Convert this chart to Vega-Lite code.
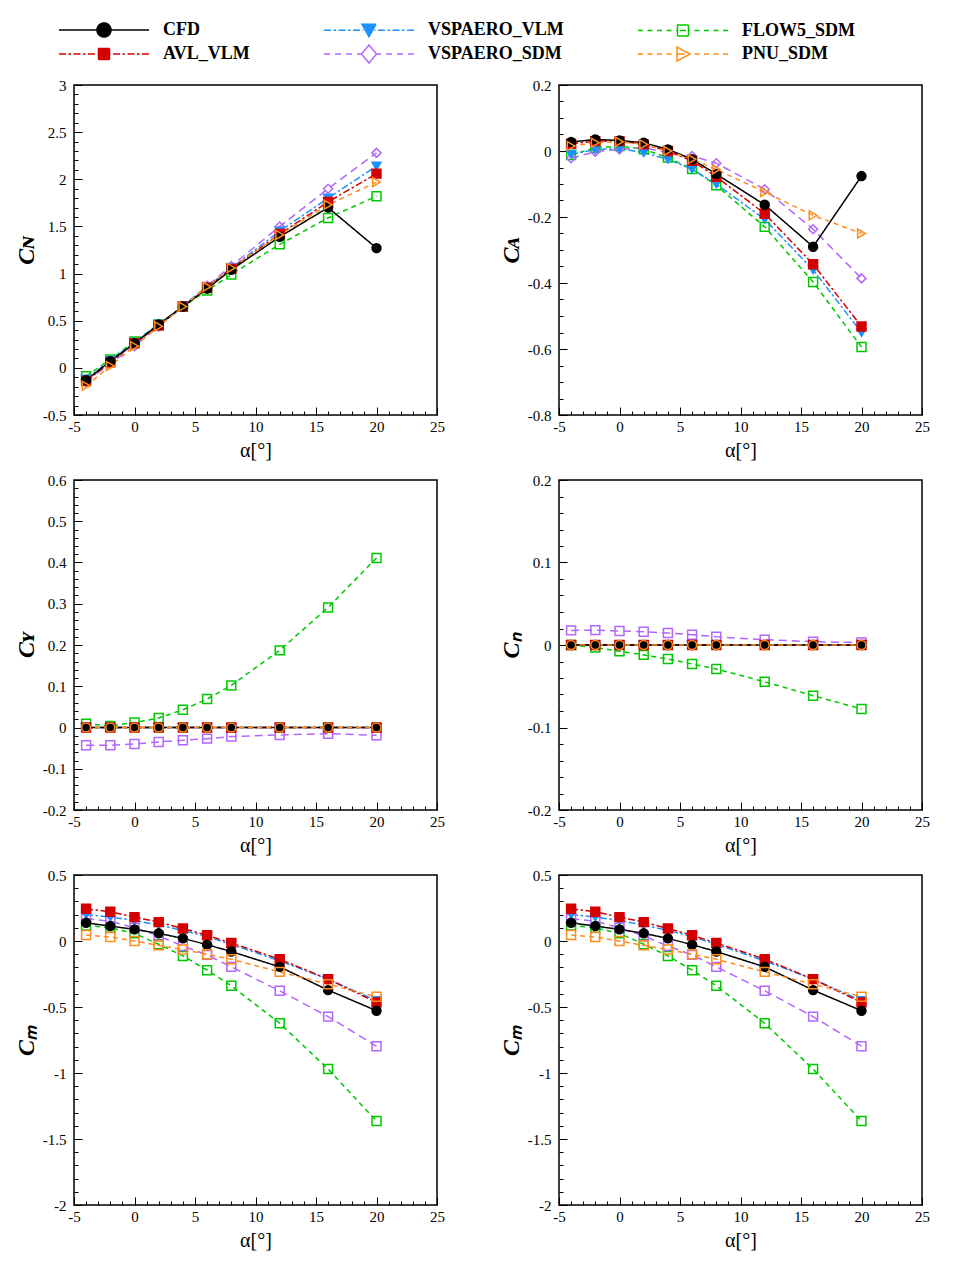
{
  "$schema": "https://vega.github.io/schema/vega-lite/v6.json",
  "padding": {"left": 13, "top": 21, "right": 5, "bottom": 5},
  "background": "white",
  "data": {"values": [
    {"s": "FLOW5_SDM", "a": -4, "CN": -0.09, "CA": -0.012, "CY": 0.009, "Cn": 0.0, "Cm": 0.118},
    {"s": "FLOW5_SDM", "a": -2, "CN": 0.09, "CA": 0.01, "CY": 0.004, "Cn": -0.003, "Cm": 0.10},
    {"s": "FLOW5_SDM", "a": 0, "CN": 0.28, "CA": 0.015, "CY": 0.012, "Cn": -0.0076, "Cm": 0.058},
    {"s": "FLOW5_SDM", "a": 2, "CN": 0.46, "CA": 0.005, "CY": 0.023, "Cn": -0.012, "Cm": -0.025},
    {"s": "FLOW5_SDM", "a": 4, "CN": 0.65, "CA": -0.02, "CY": 0.043, "Cn": -0.017, "Cm": -0.113},
    {"s": "FLOW5_SDM", "a": 6, "CN": 0.82, "CA": -0.055, "CY": 0.069, "Cn": -0.023, "Cm": -0.221},
    {"s": "FLOW5_SDM", "a": 8, "CN": 0.99, "CA": -0.104, "CY": 0.102, "Cn": -0.029, "Cm": -0.339},
    {"s": "FLOW5_SDM", "a": 12, "CN": 1.31, "CA": -0.23, "CY": 0.187, "Cn": -0.0446, "Cm": -0.623},
    {"s": "FLOW5_SDM", "a": 16, "CN": 1.59, "CA": -0.397, "CY": 0.291, "Cn": -0.0614, "Cm": -0.97},
    {"s": "FLOW5_SDM", "a": 20, "CN": 1.82, "CA": -0.594, "CY": 0.411, "Cn": -0.0775, "Cm": -1.364},
    {"s": "VSPAERO_SDM", "a": -4, "CN": -0.15, "CA": -0.022, "CY": -0.043, "Cn": 0.0177, "Cm": 0.168},
    {"s": "VSPAERO_SDM", "a": -2, "CN": 0.05, "CA": -0.002, "CY": -0.043, "Cn": 0.018, "Cm": 0.15},
    {"s": "VSPAERO_SDM", "a": 0, "CN": 0.23, "CA": 0.005, "CY": -0.04, "Cn": 0.017, "Cm": 0.10},
    {"s": "VSPAERO_SDM", "a": 2, "CN": 0.44, "CA": 0.01, "CY": -0.035, "Cn": 0.016, "Cm": 0.038},
    {"s": "VSPAERO_SDM", "a": 4, "CN": 0.65, "CA": -0.005, "CY": -0.031, "Cn": 0.0145, "Cm": -0.038},
    {"s": "VSPAERO_SDM", "a": 6, "CN": 0.87, "CA": -0.015, "CY": -0.027, "Cn": 0.0125, "Cm": -0.105},
    {"s": "VSPAERO_SDM", "a": 8, "CN": 1.08, "CA": -0.037, "CY": -0.022, "Cn": 0.010, "Cm": -0.196},
    {"s": "VSPAERO_SDM", "a": 12, "CN": 1.50, "CA": -0.116, "CY": -0.018, "Cn": 0.0064, "Cm": -0.377},
    {"s": "VSPAERO_SDM", "a": 16, "CN": 1.90, "CA": -0.237, "CY": -0.015, "Cn": 0.004, "Cm": -0.573},
    {"s": "VSPAERO_SDM", "a": 20, "CN": 2.28, "CA": -0.386, "CY": -0.019, "Cn": 0.003, "Cm": -0.797},
    {"s": "VSPAERO_VLM", "a": -4, "CN": -0.12, "CA": -0.01, "CY": 0, "Cn": 0, "Cm": 0.20},
    {"s": "VSPAERO_VLM", "a": -2, "CN": 0.08, "CA": 0.004, "CY": 0, "Cn": 0, "Cm": 0.181},
    {"s": "VSPAERO_VLM", "a": 0, "CN": 0.27, "CA": 0.008, "CY": 0, "Cn": 0, "Cm": 0.156},
    {"s": "VSPAERO_VLM", "a": 2, "CN": 0.46, "CA": -0.005, "CY": 0, "Cn": 0, "Cm": 0.12},
    {"s": "VSPAERO_VLM", "a": 4, "CN": 0.66, "CA": -0.025, "CY": 0, "Cn": 0, "Cm": 0.08},
    {"s": "VSPAERO_VLM", "a": 6, "CN": 0.86, "CA": -0.055, "CY": 0, "Cn": 0, "Cm": 0.033},
    {"s": "VSPAERO_VLM", "a": 8, "CN": 1.06, "CA": -0.10, "CY": 0, "Cn": 0, "Cm": -0.025},
    {"s": "VSPAERO_VLM", "a": 12, "CN": 1.45, "CA": -0.207, "CY": 0, "Cn": 0, "Cm": -0.15},
    {"s": "VSPAERO_VLM", "a": 16, "CN": 1.80, "CA": -0.36, "CY": 0, "Cn": 0, "Cm": -0.289},
    {"s": "VSPAERO_VLM", "a": 20, "CN": 2.14, "CA": -0.55, "CY": 0, "Cn": 0, "Cm": -0.452},
    {"s": "AVL_VLM", "a": -4, "CN": -0.14, "CA": 0.022, "CY": 0, "Cn": 0, "Cm": 0.244},
    {"s": "AVL_VLM", "a": -2, "CN": 0.06, "CA": 0.03, "CY": 0, "Cn": 0, "Cm": 0.221},
    {"s": "AVL_VLM", "a": 0, "CN": 0.26, "CA": 0.03, "CY": 0, "Cn": 0, "Cm": 0.181},
    {"s": "AVL_VLM", "a": 2, "CN": 0.45, "CA": 0.02, "CY": 0, "Cn": 0, "Cm": 0.143},
    {"s": "AVL_VLM", "a": 4, "CN": 0.65, "CA": 0.0, "CY": 0, "Cn": 0, "Cm": 0.095},
    {"s": "AVL_VLM", "a": 6, "CN": 0.85, "CA": -0.03, "CY": 0, "Cn": 0, "Cm": 0.043},
    {"s": "AVL_VLM", "a": 8, "CN": 1.05, "CA": -0.078, "CY": 0, "Cn": 0, "Cm": -0.015},
    {"s": "AVL_VLM", "a": 12, "CN": 1.42, "CA": -0.19, "CY": 0, "Cn": 0, "Cm": -0.138},
    {"s": "AVL_VLM", "a": 16, "CN": 1.76, "CA": -0.343, "CY": 0, "Cn": 0, "Cm": -0.289},
    {"s": "AVL_VLM", "a": 20, "CN": 2.06, "CA": -0.532, "CY": 0, "Cn": 0, "Cm": -0.465},
    {"s": "CFD", "a": -4, "CN": -0.13, "CA": 0.027, "CY": 0, "Cn": 0, "Cm": 0.138},
    {"s": "CFD", "a": -2, "CN": 0.07, "CA": 0.035, "CY": 0, "Cn": 0, "Cm": 0.113},
    {"s": "CFD", "a": 0, "CN": 0.26, "CA": 0.032, "CY": 0, "Cn": 0, "Cm": 0.088},
    {"s": "CFD", "a": 2, "CN": 0.46, "CA": 0.025, "CY": 0, "Cn": 0, "Cm": 0.058},
    {"s": "CFD", "a": 4, "CN": 0.65, "CA": 0.005, "CY": 0, "Cn": 0, "Cm": 0.02},
    {"s": "CFD", "a": 6, "CN": 0.84, "CA": -0.025, "CY": 0, "Cn": 0, "Cm": -0.028},
    {"s": "CFD", "a": 8, "CN": 1.04, "CA": -0.07, "CY": 0, "Cn": 0, "Cm": -0.08},
    {"s": "CFD", "a": 12, "CN": 1.39, "CA": -0.163, "CY": 0, "Cn": 0, "Cm": -0.196},
    {"s": "CFD", "a": 16, "CN": 1.70, "CA": -0.29, "CY": 0, "Cn": 0, "Cm": -0.372},
    {"s": "CFD", "a": 20, "CN": 1.27, "CA": -0.076, "CY": 0, "Cn": 0, "Cm": -0.528},
    {"s": "PNU_SDM", "a": -4, "CN": -0.19, "CA": 0.015, "CY": 0, "Cn": 0, "Cm": 0.045},
    {"s": "PNU_SDM", "a": -2, "CN": 0.02, "CA": 0.025, "CY": 0, "Cn": 0, "Cm": 0.03},
    {"s": "PNU_SDM", "a": 0, "CN": 0.23, "CA": 0.028, "CY": 0, "Cn": 0, "Cm": 0.0},
    {"s": "PNU_SDM", "a": 2, "CN": 0.44, "CA": 0.02, "CY": 0, "Cn": 0, "Cm": -0.033},
    {"s": "PNU_SDM", "a": 4, "CN": 0.65, "CA": 0.0, "CY": 0, "Cn": 0, "Cm": -0.065},
    {"s": "PNU_SDM", "a": 6, "CN": 0.86, "CA": -0.025, "CY": 0, "Cn": 0, "Cm": -0.1},
    {"s": "PNU_SDM", "a": 8, "CN": 1.06, "CA": -0.056, "CY": 0, "Cn": 0, "Cm": -0.138},
    {"s": "PNU_SDM", "a": 12, "CN": 1.41, "CA": -0.124, "CY": 0, "Cn": 0, "Cm": -0.234},
    {"s": "PNU_SDM", "a": 16, "CN": 1.73, "CA": -0.195, "CY": 0, "Cn": 0, "Cm": -0.327},
    {"s": "PNU_SDM", "a": 20, "CN": 1.97, "CA": -0.25, "CY": 0, "Cn": 0, "Cm": -0.422}
  ]},
  "columns": 2,
  "spacing": {"row": 11, "column": 52},
  "resolve": {"scale": {"shape": "independent"}},
  "concat": [
    {
      "width": 363, "height": 330,
      "encoding": {
        "x": {"field": "a", "type": "quantitative", "scale": {"domain": [-5, 25], "nice": false, "zero": false},
          "axis": {"values": [-5,-4,-3,-2,-1,0,1,2,3,4,5,6,7,8,9,10,11,12,13,14,15,16,17,18,19,20,21,22,23,24,25], "labelExpr": "datum.value % 5 === 0 ? '' + datum.value : ''", "tickSize": {"condition": {"test": "datum.value % 5 === 0", "value": -8}, "value": -4}, "title": "α[°]"}},
        "y": {"field": "CN", "type": "quantitative", "scale": {"domain": [-0.5, 3], "nice": false, "zero": false},
          "axis": {"values": [-0.5,-0.4,-0.3,-0.2,-0.1,0,0.1,0.2,0.3,0.4,0.5,0.6,0.7,0.8,0.9,1,1.1,1.2,1.3,1.4,1.5,1.6,1.7,1.8,1.9,2,2.1,2.2,2.3,2.4,2.5,2.6,2.7,2.8,2.9,3], "labelExpr": "abs(datum.value*2-round(datum.value*2))<1e-6 ? '' + datum.value : ''", "tickSize": {"condition": {"test": "abs(datum.value*2-round(datum.value*2))<1e-6", "value": -8}, "value": -4}, "title": "Cɴ"}}
      },
      "layer": [
        {"mark": {"type": "line", "strokeWidth": 1.5},
          "encoding": {
            "color": {"field": "s", "type": "nominal", "scale": {"domain": ["CFD", "AVL_VLM", "VSPAERO_VLM", "VSPAERO_SDM", "FLOW5_SDM", "PNU_SDM"], "range": ["black", "#d40000", "#1e90ff", "#b266ff", "#00c800", "#ff8c1a"]}},
            "strokeDash": {"field": "s", "type": "nominal", "scale": {"domain": ["CFD", "VSPAERO_VLM", "FLOW5_SDM", "AVL_VLM", "VSPAERO_SDM", "PNU_SDM"], "range": [[1, 0], [7, 2.5, 2.5, 2.5], [5, 4], [7, 2.5, 2.5, 2.5], [8, 5], [5, 4]]}, "legend": null}
          }},
        {"mark": {"type": "point", "filled": false, "size": 80, "strokeWidth": 1.5, "opacity": 1},
          "encoding": {
            "color": {"field": "s", "type": "nominal", "legend": {
              "orient": "none", "legendX": -15, "legendY": -64, "columns": 3, "title": null, "padding": 0,
              "columnPadding": 71, "rowPadding": 2,
              "labelFont": "Liberation Serif", "labelFontSize": 18, "labelFontWeight": "bold", "labelColor": "black", "labelLimit": 300,
              "symbolSize": 100, "symbolOffset": 36, "labelOffset": 50,
              "encoding": {"symbols": {
                "shape": {"value": {"expr": "datum.value === 'CFD' ? 'M-9,0L9,0M-1.4,0A1.4,1.4,0,1,1,1.4,0A1.4,1.4,0,1,1,-1.4,0Z' : datum.value === 'AVL_VLM' ? 'M-9,0L-7.6,0M-7.1,0L-6.6,0M-6.1,0L-4.7,0M-4.2,0L-3.7,0M-3.2,0L-1.8,0M-1.3,0L-1.1,0M1.1,0L1.3,0M1.8,0L3.2,0M3.7,0L4.2,0M4.7,0L6.1,0M6.6,0L7.1,0M7.6,0L9,0M-1.1,-1.1L1.1,-1.1L1.1,1.1L-1.1,1.1Z' : datum.value === 'VSPAERO_VLM' ? 'M-9,0L-7.6,0M-7.1,0L-6.6,0M-6.1,0L-4.7,0M-4.2,0L-3.7,0M-3.2,0L-1.8,0M-1.3,0L-1.1,0M1.1,0L1.3,0M1.8,0L3.2,0M3.7,0L4.2,0M4.7,0L6.1,0M6.6,0L7.1,0M7.6,0L9,0M-1.4,-1.2L1.4,-1.2L0,1.3Z' : datum.value === 'VSPAERO_SDM' ? 'M-9,0L-7.8,0M-6.8,0L-5.6,0M-4.6,0L-3.4,0M-2.4,0L-1.5,0M1.5,0L2.4,0M3.4,0L4.6,0M5.6,0L6.8,0M7.8,0L9,0M0,-1.8L1.5,0L0,1.8L-1.5,0Z' : datum.value === 'FLOW5_SDM' ? 'M-9,0L-8,0M-7.1,0L-6.1,0M-5.2,0L-4.2,0M-3.3,0L-2.3,0M-1.4,0L-1.1,0M1.1,0L1.4,0M2.3,0L3.3,0M4.2,0L5.2,0M6.1,0L7.1,0M8,0L9,0M-0.6,0L0.6,0M-1.1,-1.1L1.1,-1.1L1.1,1.1L-1.1,1.1Z' : 'M-9,0L-8,0M-7.1,0L-6.1,0M-5.2,0L-4.2,0M-3.3,0L-2.3,0M-1.4,0L-1.2,0M2.3,0L3.3,0M4.2,0L5.2,0M6.1,0L7.1,0M8,0L9,0M1.4,0L1.6,0M-1.2,0L0.4,0M-1.2,-1.4L1.4,0L-1.2,1.4Z'"}},
                "fill": {"value": {"expr": "datum.value === 'CFD' ? 'black' : datum.value === 'AVL_VLM' ? '#d40000' : datum.value === 'VSPAERO_VLM' ? '#1e90ff' : 'transparent'"}},
                "stroke": {"value": {"expr": "datum.value === 'CFD' ? 'black' : datum.value === 'AVL_VLM' ? '#d40000' : datum.value === 'VSPAERO_VLM' ? '#1e90ff' : datum.value === 'VSPAERO_SDM' ? '#b266ff' : datum.value === 'FLOW5_SDM' ? '#00c800' : '#ff8c1a'"}},
                "strokeWidth": {"value": 1.5},
                "strokeDash": {"value": [1, 0]},
                "opacity": {"value": 1}
              }}
            }},
            "shape": {"field": "s", "type": "nominal", "scale": {"domain": ["CFD", "VSPAERO_VLM", "FLOW5_SDM", "AVL_VLM", "VSPAERO_SDM", "PNU_SDM"], "range": ["circle", "triangle-down", "square", "square", "diamond", "triangle-right"]}, "legend": null},
            "fill": {"field": "s", "type": "nominal", "scale": {"domain": ["CFD", "VSPAERO_VLM", "FLOW5_SDM", "AVL_VLM", "VSPAERO_SDM", "PNU_SDM"], "range": ["black", "#1e90ff", "transparent", "#d40000", "transparent", "transparent"]}, "legend": null}
          }}
      ]
    },
    {
      "width": 363, "height": 330,
      "encoding": {
        "x": {"field": "a", "type": "quantitative", "scale": {"domain": [-5, 25], "nice": false, "zero": false},
          "axis": {"values": [-5,-4,-3,-2,-1,0,1,2,3,4,5,6,7,8,9,10,11,12,13,14,15,16,17,18,19,20,21,22,23,24,25], "labelExpr": "datum.value % 5 === 0 ? '' + datum.value : ''", "tickSize": {"condition": {"test": "datum.value % 5 === 0", "value": -8}, "value": -4}, "title": "α[°]"}},
        "y": {"field": "CA", "type": "quantitative", "scale": {"domain": [-0.8, 0.2], "nice": false, "zero": false},
          "axis": {"values": [-0.8,-0.75,-0.7,-0.65,-0.6,-0.55,-0.5,-0.45,-0.4,-0.35,-0.3,-0.25,-0.2,-0.15,-0.1,-0.05,0,0.05,0.1,0.15,0.2], "labelExpr": "abs(datum.value*5-round(datum.value*5))<1e-6 ? '' + datum.value : ''", "tickSize": {"condition": {"test": "abs(datum.value*5-round(datum.value*5))<1e-6", "value": -8}, "value": -4}, "title": "Cᴀ"}}
      },
      "layer": [
        {"mark": {"type": "line", "strokeWidth": 1.5},
          "encoding": {
            "color": {"field": "s", "type": "nominal"},
            "strokeDash": {"field": "s", "type": "nominal", "legend": null}
          }},
        {"mark": {"type": "point", "filled": false, "size": 80, "strokeWidth": 1.5, "opacity": 1},
          "encoding": {
            "color": {"field": "s", "type": "nominal"},
            "shape": {"field": "s", "type": "nominal", "scale": {"domain": ["CFD", "VSPAERO_VLM", "FLOW5_SDM", "AVL_VLM", "VSPAERO_SDM", "PNU_SDM"], "range": ["circle", "triangle-down", "square", "square", "diamond", "triangle-right"]}, "legend": null},
            "fill": {"field": "s", "type": "nominal", "legend": null}
          }}
      ]
    },
    {
      "width": 363, "height": 330,
      "encoding": {
        "x": {"field": "a", "type": "quantitative", "scale": {"domain": [-5, 25], "nice": false, "zero": false},
          "axis": {"values": [-5,-4,-3,-2,-1,0,1,2,3,4,5,6,7,8,9,10,11,12,13,14,15,16,17,18,19,20,21,22,23,24,25], "labelExpr": "datum.value % 5 === 0 ? '' + datum.value : ''", "tickSize": {"condition": {"test": "datum.value % 5 === 0", "value": -8}, "value": -4}, "title": "α[°]"}},
        "y": {"field": "CY", "type": "quantitative", "scale": {"domain": [-0.2, 0.6], "nice": false, "zero": false},
          "axis": {"values": [-0.2,-0.18,-0.16,-0.14,-0.12,-0.1,-0.08,-0.06,-0.04,-0.02,0,0.02,0.04,0.06,0.08,0.1,0.12,0.14,0.16,0.18,0.2,0.22,0.24,0.26,0.28,0.3,0.32,0.34,0.36,0.38,0.4,0.42,0.44,0.46,0.48,0.5,0.52,0.54,0.56,0.58,0.6], "labelExpr": "abs(datum.value*10-round(datum.value*10))<1e-6 ? '' + datum.value : ''", "tickSize": {"condition": {"test": "abs(datum.value*10-round(datum.value*10))<1e-6", "value": -8}, "value": -4}, "title": "Cʏ"}}
      },
      "layer": [
        {"mark": {"type": "line", "strokeWidth": 1.5},
          "encoding": {
            "color": {"field": "s", "type": "nominal"},
            "strokeDash": {"field": "s", "type": "nominal", "legend": null}
          }},
        {"mark": {"type": "point", "filled": false, "size": 80, "strokeWidth": 1.5, "opacity": 1},
          "encoding": {
            "color": {"field": "s", "type": "nominal"},
            "shape": {"field": "s", "type": "nominal", "scale": {"domain": ["CFD", "VSPAERO_VLM", "FLOW5_SDM", "AVL_VLM", "VSPAERO_SDM", "PNU_SDM"], "range": ["circle", "triangle-down", "square", "square", "square", "circle"]}, "legend": null},
            "fill": {"field": "s", "type": "nominal", "legend": null}
          }}
      ]
    },
    {
      "width": 363, "height": 330,
      "encoding": {
        "x": {"field": "a", "type": "quantitative", "scale": {"domain": [-5, 25], "nice": false, "zero": false},
          "axis": {"values": [-5,-4,-3,-2,-1,0,1,2,3,4,5,6,7,8,9,10,11,12,13,14,15,16,17,18,19,20,21,22,23,24,25], "labelExpr": "datum.value % 5 === 0 ? '' + datum.value : ''", "tickSize": {"condition": {"test": "datum.value % 5 === 0", "value": -8}, "value": -4}, "title": "α[°]"}},
        "y": {"field": "Cn", "type": "quantitative", "scale": {"domain": [-0.2, 0.2], "nice": false, "zero": false},
          "axis": {"values": [-0.2,-0.18,-0.16,-0.14,-0.12,-0.1,-0.08,-0.06,-0.04,-0.02,0,0.02,0.04,0.06,0.08,0.1,0.12,0.14,0.16,0.18,0.2], "labelExpr": "abs(datum.value*10-round(datum.value*10))<1e-6 ? '' + datum.value : ''", "tickSize": {"condition": {"test": "abs(datum.value*10-round(datum.value*10))<1e-6", "value": -8}, "value": -4}, "title": "Cₙ"}}
      },
      "layer": [
        {"mark": {"type": "line", "strokeWidth": 1.5},
          "encoding": {
            "color": {"field": "s", "type": "nominal"},
            "strokeDash": {"field": "s", "type": "nominal", "legend": null}
          }},
        {"mark": {"type": "point", "filled": false, "size": 80, "strokeWidth": 1.5, "opacity": 1},
          "encoding": {
            "color": {"field": "s", "type": "nominal"},
            "shape": {"field": "s", "type": "nominal", "scale": {"domain": ["CFD", "VSPAERO_VLM", "FLOW5_SDM", "AVL_VLM", "VSPAERO_SDM", "PNU_SDM"], "range": ["circle", "triangle-down", "square", "square", "square", "circle"]}, "legend": null},
            "fill": {"field": "s", "type": "nominal", "legend": null}
          }}
      ]
    },
    {
      "width": 363, "height": 330,
      "encoding": {
        "x": {"field": "a", "type": "quantitative", "scale": {"domain": [-5, 25], "nice": false, "zero": false},
          "axis": {"values": [-5,-4,-3,-2,-1,0,1,2,3,4,5,6,7,8,9,10,11,12,13,14,15,16,17,18,19,20,21,22,23,24,25], "labelExpr": "datum.value % 5 === 0 ? '' + datum.value : ''", "tickSize": {"condition": {"test": "datum.value % 5 === 0", "value": -8}, "value": -4}, "title": "α[°]"}},
        "y": {"field": "Cm", "type": "quantitative", "scale": {"domain": [-2, 0.5], "nice": false, "zero": false},
          "axis": {"values": [-2,-1.9,-1.8,-1.7,-1.6,-1.5,-1.4,-1.3,-1.2,-1.1,-1,-0.9,-0.8,-0.7,-0.6,-0.5,-0.4,-0.3,-0.2,-0.1,0,0.1,0.2,0.3,0.4,0.5], "labelExpr": "abs(datum.value*2-round(datum.value*2))<1e-6 ? '' + datum.value : ''", "tickSize": {"condition": {"test": "abs(datum.value*2-round(datum.value*2))<1e-6", "value": -8}, "value": -4}, "title": "Cₘ"}}
      },
      "layer": [
        {"mark": {"type": "line", "strokeWidth": 1.5},
          "encoding": {
            "color": {"field": "s", "type": "nominal"},
            "strokeDash": {"field": "s", "type": "nominal", "legend": null}
          }},
        {"mark": {"type": "point", "filled": false, "size": 80, "strokeWidth": 1.5, "opacity": 1},
          "encoding": {
            "color": {"field": "s", "type": "nominal"},
            "shape": {"field": "s", "type": "nominal", "scale": {"domain": ["CFD", "VSPAERO_VLM", "FLOW5_SDM", "AVL_VLM", "VSPAERO_SDM", "PNU_SDM"], "range": ["circle", "triangle-down", "square", "square", "square", "square"]}, "legend": null},
            "fill": {"field": "s", "type": "nominal", "legend": null}
          }}
      ]
    },
    {
      "width": 363, "height": 330,
      "encoding": {
        "x": {"field": "a", "type": "quantitative", "scale": {"domain": [-5, 25], "nice": false, "zero": false},
          "axis": {"values": [-5,-4,-3,-2,-1,0,1,2,3,4,5,6,7,8,9,10,11,12,13,14,15,16,17,18,19,20,21,22,23,24,25], "labelExpr": "datum.value % 5 === 0 ? '' + datum.value : ''", "tickSize": {"condition": {"test": "datum.value % 5 === 0", "value": -8}, "value": -4}, "title": "α[°]"}},
        "y": {"field": "Cm", "type": "quantitative", "scale": {"domain": [-2, 0.5], "nice": false, "zero": false},
          "axis": {"values": [-2,-1.9,-1.8,-1.7,-1.6,-1.5,-1.4,-1.3,-1.2,-1.1,-1,-0.9,-0.8,-0.7,-0.6,-0.5,-0.4,-0.3,-0.2,-0.1,0,0.1,0.2,0.3,0.4,0.5], "labelExpr": "abs(datum.value*2-round(datum.value*2))<1e-6 ? '' + datum.value : ''", "tickSize": {"condition": {"test": "abs(datum.value*2-round(datum.value*2))<1e-6", "value": -8}, "value": -4}, "title": "Cₘ"}}
      },
      "layer": [
        {"mark": {"type": "line", "strokeWidth": 1.5},
          "encoding": {
            "color": {"field": "s", "type": "nominal"},
            "strokeDash": {"field": "s", "type": "nominal", "legend": null}
          }},
        {"mark": {"type": "point", "filled": false, "size": 80, "strokeWidth": 1.5, "opacity": 1},
          "encoding": {
            "color": {"field": "s", "type": "nominal"},
            "shape": {"field": "s", "type": "nominal", "scale": {"domain": ["CFD", "VSPAERO_VLM", "FLOW5_SDM", "AVL_VLM", "VSPAERO_SDM", "PNU_SDM"], "range": ["circle", "triangle-down", "square", "square", "square", "square"]}, "legend": null},
            "fill": {"field": "s", "type": "nominal", "legend": null}
          }}
      ]
    }
  ],
  "config": {
    "view": {"stroke": "black", "strokeWidth": 1.5},
    "axis": {"grid": false, "domain": false, "labelFont": "Liberation Serif", "labelFontSize": 15, "labelColor": "black", "tickColor": "black", "tickWidth": 1, "titleFont": "Liberation Serif", "titleColor": "black", "labelOverlap": false, "labelBound": false, "labelFlush": false},
    "axisX": {"titleFontSize": 20, "titleFontWeight": "normal", "labelPadding": 12, "titlePadding": 2},
    "axisY": {"titleFontSize": 24, "titleFontWeight": "bold", "titleFontStyle": "italic", "labelPadding": 16, "titlePadding": 4}
  }
}
